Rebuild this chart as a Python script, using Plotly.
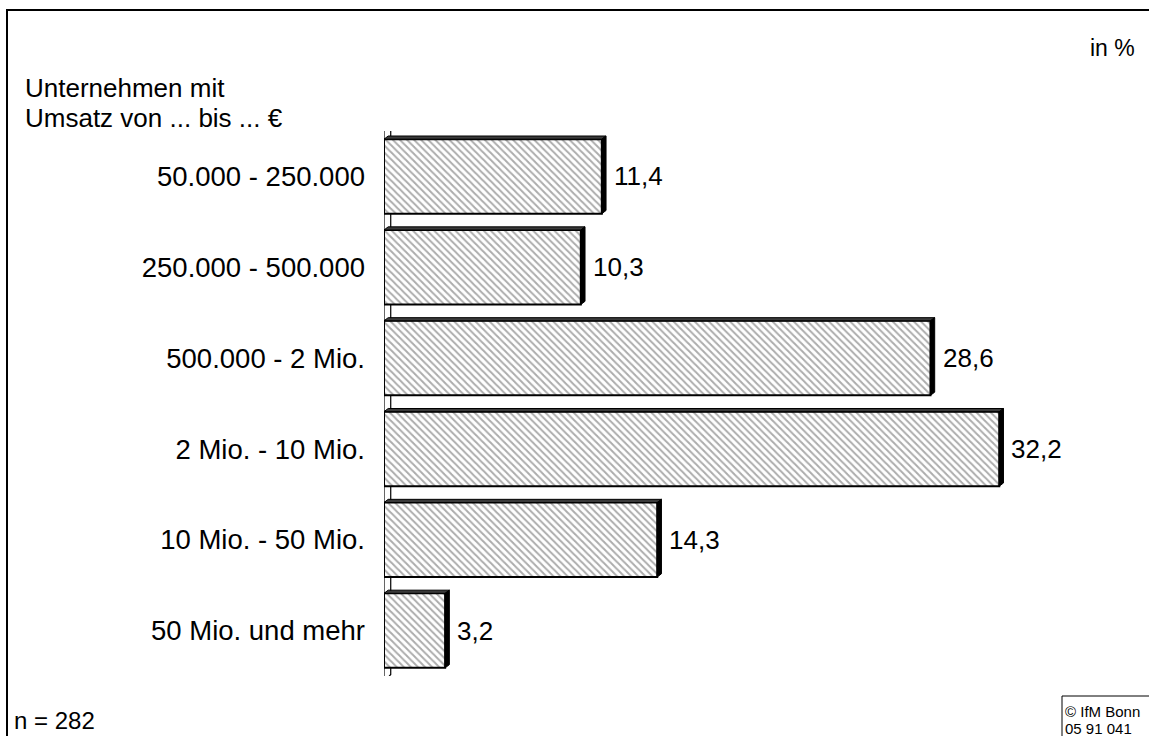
import plotly.graph_objects as go

# Daten
kategorien = ["50.000 - 250.000", "250.000 - 500.000", "500.000 - 2 Mio.",
              "2 Mio. - 10 Mio.", "10 Mio. - 50 Mio.", "50 Mio. und mehr"]
anteile = [11.4, 10.3, 28.6, 32.2, 14.3, 3.2]
werte_text = ["11,4", "10,3", "28,6", "32,2", "14,3", "3,2"]

W, H = 1149, 736
FONT = "Liberation Sans, Arial, sans-serif"

# Plotbereich in Pixeln
px_l, px_r = 384, 1091
px_t, px_b = 131, 676
x_max = 37.0
bar_w = 0.82
dx = 0.22    # 3D-Tiefe in x (Datenwerte)
dy = 0.035   # 3D-Tiefe in y (Kategorieeinheiten)

pos = list(range(len(kategorien)))

fig = go.Figure()
fig.add_trace(go.Bar(
    x=anteile, y=pos, orientation="h", width=bar_w,
    marker=dict(color="white",
                line=dict(color="black", width=2),
                pattern=dict(shape="\\", size=5, solidity=0.4,
                             fgcolor="#5a5a5a", bgcolor="white")),
    hoverinfo="skip", showlegend=False,
))

shapes = []
# Achsenwand (3D)
y_top, y_bot = -0.53, 5.57
shapes.append(dict(type="path", xref="x", yref="y", layer="below",
                   path=f"M 0,{y_bot} L 0,{y_top} L {dx*1.6},{y_top - dy*2.5} "
                        f"L {dx*1.6},{y_bot - dy*2.5} Z",
                   fillcolor="white", line=dict(color="black", width=1.2)))

# 3D-Seiten der Balken
for p, v in zip(pos, anteile):
    top = p - bar_w / 2
    bot = p + bar_w / 2
    # Oberseite
    shapes.append(dict(type="path", xref="x", yref="y",
                       path=f"M 0,{top} L {dx},{top - dy} L {v + dx},{top - dy} L {v},{top} Z",
                       fillcolor="#3a3a3a", line=dict(color="black", width=1)))
    # rechte Seite
    shapes.append(dict(type="path", xref="x", yref="y",
                       path=f"M {v},{top} L {v + dx},{top - dy} L {v + dx},{bot - dy} L {v},{bot} Z",
                       fillcolor="black", line=dict(color="black", width=1)))

# Rahmen
shapes.append(dict(type="rect", xref="paper", yref="paper",
                   x0=7 / W, x1=1.05, y0=-0.05, y1=1 - 10 / H,
                   line=dict(color="black", width=2), fillcolor="rgba(0,0,0,0)"))
# Copyright-Kasten
shapes.append(dict(type="rect", xref="paper", yref="paper",
                   x0=1062 / W, x1=1.05, y0=-0.05, y1=1 - 696 / H,
                   line=dict(color="black", width=1), fillcolor="white"))

annotations = []
for p, v, t in zip(pos, anteile, werte_text):
    annotations.append(dict(x=v + dx, y=p, xref="x", yref="y", text=t,
                            showarrow=False, xanchor="left", xshift=6,
                            font=dict(size=26, family=FONT, color="black")))

annotations += [
    dict(x=23 / W, y=1 - 88 / H, xref="paper", yref="paper",
         text="Unternehmen mit", xanchor="left", yanchor="middle",
         showarrow=False, font=dict(size=26, family=FONT, color="black")),
    dict(x=23 / W, y=1 - 118 / H, xref="paper", yref="paper",
         text="Umsatz von ... bis ... €", xanchor="left", yanchor="middle",
         showarrow=False, font=dict(size=26, family=FONT, color="black")),
    dict(x=1137 / W, y=1 - 48 / H, xref="paper", yref="paper", text="in %",
         xanchor="right", yanchor="middle", showarrow=False,
         font=dict(size=23, family=FONT, color="black")),
    dict(x=12 / W, y=1 - 720 / H, xref="paper", yref="paper", text="n = 282",
         xanchor="left", yanchor="middle", showarrow=False,
         font=dict(size=24, family=FONT, color="black")),
    dict(x=1063 / W, y=1 - 711 / H, xref="paper", yref="paper",
         text="© IfM Bonn", xanchor="left", yanchor="middle", showarrow=False,
         font=dict(size=15, family=FONT, color="black")),
    dict(x=1063 / W, y=1 - 728 / H, xref="paper", yref="paper",
         text="05 91 041", xanchor="left", yanchor="middle", showarrow=False,
         font=dict(size=15, family=FONT, color="black")),
]

fig.update_layout(
    width=W, height=H,
    margin=dict(l=0, r=0, t=0, b=0),
    paper_bgcolor="white", plot_bgcolor="rgba(0,0,0,0)",
    font=dict(family=FONT, color="black"),
    xaxis=dict(domain=[px_l / W, px_r / W], range=[0, x_max],
               showgrid=False, zeroline=False, showticklabels=False,
               showline=False, ticks=""),
    yaxis=dict(domain=[1 - px_b / H, 1 - px_t / H], range=[5.5, -0.5],
               tickvals=pos, ticktext=kategorien, showgrid=False,
               zeroline=False, showline=False, ticks="",
               ticklabelstandoff=18,
               tickfont=dict(size=27.5, family=FONT, color="black")),
    shapes=shapes,
    annotations=annotations,
    bargap=0.18,
)

fig.write_html("out.html", config={"displayModeBar": False},
               post_script="document.body.style.margin='0';"
                           "document.body.style.overflow='hidden';")
